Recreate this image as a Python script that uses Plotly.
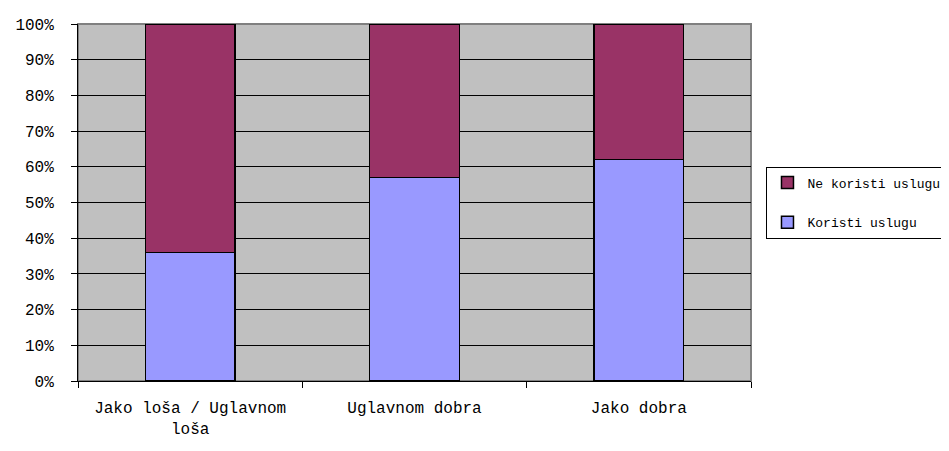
import plotly.graph_objects as go

CATEGORIES = ["Jako loša / Uglavnom<br>loša", "Uglavnom dobra", "Jako dobra"]
KORISTI = [36, 57, 62]
NE_KORISTI = [64, 43, 38]
Y_TICKS = [0, 10, 20, 30, 40, 50, 60, 70, 80, 90, 100]
Y_LABELS = [f"{v}%" for v in Y_TICKS]

FONT = {"family": "Liberation Mono, Courier New, monospace", "size": 16, "color": "#000000"}
LEGEND_FONT = {"family": "Liberation Mono, Courier New, monospace", "size": 13, "color": "#000000"}

fig = go.Figure()
fig.add_trace(
    go.Bar(
        x=CATEGORIES,
        y=KORISTI,
        name="Koristi uslugu",
        legendgroup="koristi",
        legendrank=2,
        marker={"color": "#9999FF", "line": {"color": "#000000", "width": 1.5}},
    )
)
fig.add_trace(
    go.Bar(
        x=CATEGORIES,
        y=NE_KORISTI,
        name="Ne koristi uslugu",
        legendgroup="ne",
        legendrank=1,
        marker={"color": "#993366", "line": {"color": "#000000", "width": 1.5}},
    )
)

# the page body adds an 8px offset, so margins are shifted to compensate
fig.update_layout(
    barmode="stack",
    bargap=0.6,
    width=949,
    height=451,
    margin={"l": 70, "r": 206, "t": 16, "b": 78, "autoexpand": False},
    paper_bgcolor="#FFFFFF",
    plot_bgcolor="#C0C0C0",
    font=FONT,
    showlegend=True,
    legend={
        "x": 1.023,
        "y": 0.5,
        "xanchor": "left",
        "yanchor": "middle",
        "traceorder": "grouped",
        "bgcolor": "#FFFFFF",
        "bordercolor": "#000000",
        "borderwidth": 1,
        "font": LEGEND_FONT,
        "itemwidth": 30,
        "tracegroupgap": 20,
    },
    shapes=[
        {
            "type": "rect",
            "xref": "paper",
            "yref": "paper",
            "x0": 0,
            "x1": 1,
            "y0": 0,
            "y1": 1,
            "line": {"color": "#808080", "width": 2},
            "layer": "below",
        }
    ],
)

fig.update_xaxes(
    type="category",
    tickson="boundaries",
    ticks="outside",
    ticklen=6,
    tickcolor="#000000",
    ticklabelstandoff=12,
    showline=True,
    linecolor="#000000",
    linewidth=1,
    showgrid=False,
    tickfont=FONT,
)
fig.update_yaxes(
    range=[0, 100],
    tickvals=Y_TICKS,
    ticktext=Y_LABELS,
    ticks="outside",
    ticklen=6,
    tickcolor="#000000",
    ticklabelstandoff=14,
    showline=True,
    linecolor="#000000",
    linewidth=1,
    showgrid=True,
    gridcolor="#000000",
    gridwidth=1,
    zeroline=False,
    tickfont=FONT,
)

fig.write_html("out.html")
